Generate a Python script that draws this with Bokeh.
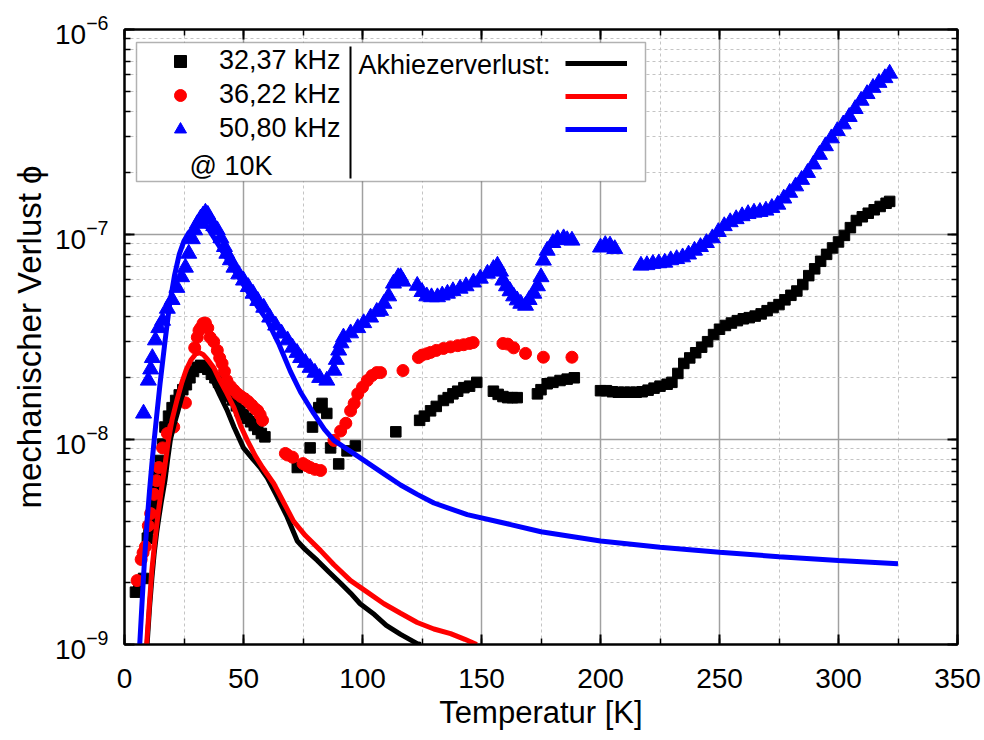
from bokeh.plotting import figure
from bokeh.models import (LinearAxis, LogAxis, SingleIntervalTicker, LogTicker,
                          Legend, LegendItem, Label, BoxAnnotation)
from bokeh.embed import file_html
from bokeh.resources import INLINE

FONT = "Liberation Sans"

# ---------------- data ----------------
# 32,37 kHz measured loss (black squares)
sq_T = [4.6, 6, 8, 9.6, 10.3, 11, 12, 13, 14, 15, 16, 17, 18.5, 20, 21.5, 23, 24.5, 26, 27.5, 29,
        30.5, 32, 33.5, 35, 36.5, 38, 39.5, 41, 42.5, 44, 45.5, 47, 48.5, 50, 51.5, 53, 54.5, 56, 57.5, 59,
        72.6, 78, 79, 81.6, 83, 85, 86.6, 90, 93.5, 97,
        114, 124, 126, 128.6, 131, 134, 136, 138, 140, 142.6, 145, 148,
        155, 157, 159, 161, 163, 165, 173.5, 175, 177.6, 180, 183, 186, 189,
        200, 202.5, 205, 207.5, 210, 212.5, 215, 217.5, 220, 222.5, 225, 228, 230, 232.5, 235, 237.5,
        240, 242.5, 245, 247.5, 250, 252.5, 255, 257.5, 260, 262.5, 265, 267.5, 270, 272.5, 275, 277.5,
        280, 282.5, 285, 287.5, 290, 292.5, 295, 297.5, 300, 302.5, 305, 307.5, 310, 312.5, 315, 317.5,
        320, 321.5]
sq_phi = [1.8e-9, 1.95e-9, 2.1e-9, 3.3e-9, 3.7e-9, 4.0e-9, 4.8e-9, 5.6e-9, 6.7e-9, 7.9e-9, 9.5e-9,
          1.15e-8, 1.3e-8, 1.43e-8, 1.55e-8, 1.65e-8, 1.75e-8, 1.85e-8, 2.0e-8, 2.15e-8,
          2.25e-8, 2.3e-8, 2.25e-8, 2.2e-8, 2.08e-8, 2.0e-8, 1.9e-8, 1.8e-8, 1.7e-8, 1.62e-8,
          1.56e-8, 1.46e-8, 1.38e-8, 1.32e-8, 1.27e-8, 1.22e-8, 1.17e-8, 1.12e-8, 1.07e-8, 1.03e-8,
          7.3e-9, 9.1e-9, 1.15e-8, 1.43e-8, 1.5e-8, 1.34e-8, 9.1e-9, 7.6e-9, 8.8e-9, 9.3e-9,
          1.09e-8, 1.24e-8, 1.3e-8, 1.38e-8, 1.45e-8, 1.55e-8, 1.6e-8, 1.67e-8, 1.72e-8, 1.79e-8, 1.82e-8, 1.9e-8,
          1.72e-8, 1.66e-8, 1.62e-8, 1.6e-8, 1.6e-8, 1.6e-8, 1.67e-8, 1.75e-8, 1.87e-8, 1.9e-8, 1.94e-8, 1.97e-8, 2.0e-8,
          1.73e-8, 1.73e-8, 1.71e-8, 1.7e-8, 1.7e-8, 1.7e-8, 1.7e-8, 1.71e-8, 1.74e-8, 1.78e-8, 1.82e-8, 1.86e-8,
          1.9e-8, 2.1e-8, 2.35e-8, 2.5e-8, 2.65e-8, 2.82e-8, 3.0e-8, 3.25e-8, 3.45e-8, 3.6e-8, 3.7e-8, 3.8e-8,
          3.88e-8, 3.93e-8, 4.0e-8, 4.1e-8, 4.25e-8, 4.4e-8, 4.55e-8, 4.8e-8, 5.05e-8, 5.3e-8, 5.7e-8, 6.3e-8,
          6.8e-8, 7.4e-8, 8.0e-8, 8.6e-8, 9.2e-8, 9.9e-8, 1.08e-7, 1.17e-7, 1.22e-7, 1.27e-7, 1.32e-7, 1.37e-7,
          1.42e-7, 1.45e-7]

# 36,22 kHz measured loss (red circles)
ci_T = [5.3, 7, 7.8, 8.8, 10, 11, 12.4, 13.5, 14.4, 16, 18, 20.7, 25.6, 29.5, 30.6, 31.3, 32, 33, 34,
        35, 36, 37.5, 39, 40, 41, 42, 43, 44.5, 46, 47.5, 49, 50.5, 52, 53.5, 55, 56, 57, 58,
        67.6, 68.5, 70.6, 75, 76.5, 78, 80, 82.4, 88, 90.8, 93, 95, 96.5, 98, 100, 102, 104, 106,
        107.6, 117, 123.5, 125, 127, 128.6, 131, 134, 137, 140, 142.5, 145, 146.5, 159, 161, 163.5,
        168.5, 176, 188]
ci_phi = [2.05e-9, 2.6e-9, 2.8e-9, 3.0e-9, 3.8e-9, 4.35e-9, 5.4e-9, 6.3e-9, 7.3e-9, 9.1e-9, 1.07e-8,
          1.15e-8, 1.51e-8, 2.8e-8, 3.15e-8, 3.4e-8, 3.5e-8, 3.68e-8, 3.7e-8, 3.5e-8, 3.15e-8, 3.0e-8,
          2.72e-8, 2.5e-8, 2.35e-8, 2.15e-8, 1.94e-8, 1.82e-8, 1.74e-8, 1.67e-8, 1.62e-8, 1.58e-8,
          1.53e-8, 1.47e-8, 1.41e-8, 1.38e-8, 1.32e-8, 1.24e-8,
          8.55e-9, 8.4e-9, 8.2e-9, 7.63e-9, 7.45e-9, 7.3e-9, 7.15e-9, 7.06e-9, 9.9e-9, 1.1e-8, 1.2e-8,
          1.38e-8, 1.5e-8, 1.67e-8, 1.8e-8, 1.94e-8, 2.05e-8, 2.12e-8, 2.12e-8, 2.17e-8, 2.51e-8,
          2.58e-8, 2.62e-8, 2.66e-8, 2.72e-8, 2.78e-8, 2.83e-8, 2.87e-8, 2.9e-8, 2.94e-8, 2.97e-8,
          2.94e-8, 2.92e-8, 2.8e-8, 2.63e-8, 2.52e-8, 2.52e-8]

# 50,80 kHz measured loss (blue triangles)
tr_T = [8, 10, 11, 11.7, 13, 14.4, 16, 18, 20, 22, 24, 25.6, 27, 28.5, 29.5, 30.6, 32, 33, 34, 35, 36,
        37.5, 39, 40.5, 42, 43, 44.5, 46, 48, 50, 52, 54, 56, 58.5, 61, 63.5, 66, 68.5, 70.6, 72.5, 74,
        76, 78, 80, 82, 85, 88, 89, 90, 91, 92, 95, 98, 100.5, 103.4, 106, 107.6, 109, 111, 113, 115,
        116, 117, 123, 125, 127, 129, 131.5, 133.5, 135.7, 138, 141, 143.5, 146.6, 149.5, 152.5, 155,
        156.7, 158, 159, 160.5, 162, 163.5, 165, 166.5, 168.5, 170, 172, 173.5, 175, 176, 177.6, 180,
        182, 184.5, 186, 188, 200, 202, 204, 206,
        217, 219.5, 222, 224.5, 227, 229.5, 232, 234.5, 237, 239.5, 242, 244.5, 247, 249.5, 252, 254.5,
        257, 259.5, 262, 264.5, 267, 269.5, 272, 274.5, 277, 279.5, 282, 284.5, 287, 289.5, 292, 294.5,
        297, 299.5, 302, 304.5, 307, 309.5, 312, 314.5, 317, 319.5, 321.5]
tr_phi = [1.34e-8, 1.94e-8, 2.2e-8, 2.5e-8, 3.05e-8, 3.5e-8, 3.8e-8, 4.35e-8, 4.8e-8, 5.5e-8, 6.2e-8,
          6.9e-8, 8.07e-8, 9.5e-8, 1.05e-7, 1.13e-7, 1.2e-7, 1.24e-7, 1.28e-7, 1.25e-7, 1.18e-7, 1.1e-7,
          1.05e-7, 9.6e-8, 8.7e-8, 8.07e-8, 7.5e-8, 6.9e-8, 6.4e-8, 5.97e-8, 5.55e-8, 5.15e-8, 4.75e-8,
          4.4e-8, 3.94e-8, 3.6e-8, 3.29e-8, 3.05e-8, 2.81e-8, 2.65e-8, 2.5e-8, 2.37e-8, 2.24e-8, 2.12e-8,
          2.0e-8, 1.94e-8, 2.17e-8, 2.45e-8, 2.72e-8, 2.95e-8, 3.15e-8, 3.3e-8, 3.5e-8, 3.7e-8, 3.94e-8,
          4.2e-8, 4.25e-8, 4.6e-8, 5.0e-8, 5.77e-8, 6.2e-8, 6.2e-8, 5.9e-8, 5.63e-8, 5.25e-8, 5.0e-8,
          4.95e-8, 4.95e-8, 5.05e-8, 5.15e-8, 5.3e-8, 5.45e-8, 5.6e-8, 5.84e-8, 6.1e-8, 6.45e-8, 6.8e-8,
          7.06e-8, 6.6e-8, 5.97e-8, 5.6e-8, 5.3e-8, 5.0e-8, 4.78e-8, 4.6e-8, 4.5e-8, 4.8e-8, 5.15e-8,
          5.6e-8, 6.2e-8, 7.47e-8, 8.35e-8, 9.1e-8, 9.5e-8, 9.6e-8, 9.4e-8, 9.35e-8, 8.65e-8, 8.9e-8,
          8.85e-8, 8.5e-8,
          7.06e-8, 7.1e-8, 7.2e-8, 7.25e-8, 7.3e-8, 7.5e-8, 7.6e-8, 7.75e-8, 8.0e-8, 8.35e-8, 8.7e-8,
          9.1e-8, 9.6e-8, 1.03e-7, 1.1e-7, 1.15e-7, 1.19e-7, 1.23e-7, 1.26e-7, 1.28e-7, 1.29e-7, 1.31e-7,
          1.35e-7, 1.4e-7, 1.5e-7, 1.6e-7, 1.72e-7, 1.85e-7, 2.0e-7, 2.2e-7, 2.45e-7, 2.7e-7, 2.95e-7,
          3.2e-7, 3.45e-7, 3.75e-7, 4.1e-7, 4.5e-7, 4.85e-7, 5.2e-7, 5.5e-7, 5.8e-7, 6.1e-7]

# Akhiezer loss curves
ak1_T = [9.5, 10.5, 11.5, 12.5, 13.5, 14.5, 15.5, 17, 18, 19.3, 21, 22.5, 24, 26, 28, 30, 32, 34, 36,
         38, 40, 43, 46, 50, 54, 57, 60, 64, 68.3, 72.6, 76, 81, 86, 90.8, 95, 99, 105, 110, 116, 123, 124.5]
ak1_phi = [1.0e-9, 1.5e-9, 2.1e-9, 2.8e-9, 3.5e-9, 4.2e-9, 5.0e-9, 6.3e-9, 7.8e-9, 1.0e-8, 1.2e-8,
           1.38e-8, 1.6e-8, 1.88e-8, 2.1e-8, 2.25e-8, 2.3e-8, 2.22e-8, 2.05e-8, 1.85e-8, 1.65e-8,
           1.4e-8, 1.15e-8, 9.1e-9, 8.0e-9, 7.3e-9, 6.5e-9, 5.3e-9, 4.2e-9, 3.2e-9, 2.9e-9, 2.57e-9,
           2.25e-9, 1.99e-9, 1.78e-9, 1.58e-9, 1.4e-9, 1.24e-9, 1.12e-9, 1.01e-9, 1.0e-9]
ak2_T = [9.3, 10.5, 11.5, 12.5, 13.5, 14.5, 15.5, 17, 18.5, 20, 22, 24, 26, 28, 30, 31.5, 33, 35, 37.5,
         40, 43, 46, 49, 51.6, 55, 58, 62.7, 67, 71, 76, 82.4, 88, 95, 102, 109, 116, 123, 130, 137, 143, 148]
ak2_phi = [1.0e-9, 1.6e-9, 2.3e-9, 3.0e-9, 3.8e-9, 4.7e-9, 5.7e-9, 7.5e-9, 1.0e-8, 1.25e-8, 1.55e-8,
           1.88e-8, 2.2e-8, 2.45e-8, 2.62e-8, 2.65e-8, 2.6e-8, 2.45e-8, 2.24e-8, 1.95e-8, 1.68e-8,
           1.43e-8, 1.15e-8, 9.9e-9, 8.3e-9, 7.3e-9, 6.1e-9, 4.9e-9, 4.0e-9, 3.4e-9, 2.87e-9, 2.45e-9,
           2.05e-9, 1.8e-9, 1.58e-9, 1.42e-9, 1.28e-9, 1.19e-9, 1.13e-9, 1.06e-9, 1.0e-9]
ak3_T = [6.4, 7.5, 8.5, 9.5, 10.5, 11.5, 12.5, 13.5, 15, 17, 19, 21, 23, 25, 27, 29, 31, 33, 35, 37, 40,
         44, 48.7, 54, 60, 65, 69.7, 74, 79.5, 84, 88, 94, 100, 109, 116, 123, 130, 144, 158, 175, 200,
         225, 250, 275, 300, 325]
ak3_phi = [1.0e-9, 1.7e-9, 2.7e-9, 4.0e-9, 5.6e-9, 7.6e-9, 1.0e-8, 1.3e-8, 1.9e-8, 3.0e-8, 4.6e-8,
           6.3e-8, 8.0e-8, 9.3e-8, 1.02e-7, 1.08e-7, 1.12e-7, 1.13e-7, 1.08e-7, 9.9e-8, 8.7e-8, 7.3e-8,
           6.0e-8, 4.8e-8, 3.8e-8, 2.9e-8, 2.15e-8, 1.7e-8, 1.34e-8, 1.12e-8, 9.9e-9, 8.9e-9, 8.0e-9,
           6.8e-9, 6.0e-9, 5.4e-9, 4.9e-9, 4.3e-9, 3.95e-9, 3.55e-9, 3.2e-9, 2.98e-9, 2.82e-9, 2.68e-9,
           2.57e-9, 2.48e-9]

series_labels = ["32,37 kHz", "36,22 kHz", "50,80 kHz"]
note_label = "@ 10K"
ak_label = "Akhiezerverlust:"

# ---------------- figure ----------------
p = figure(width=984, height=740, y_axis_type="log", x_range=(0, 350), y_range=(1e-9, 1e-6),
           output_backend="svg", toolbar_location=None,
           min_border_left=124, min_border_right=27, min_border_top=29, min_border_bottom=96)
p.background_fill_color = "white"
p.border_fill_color = "white"
p.outline_line_color = "black"
p.outline_line_width = 2

xticker = SingleIntervalTicker(interval=50, num_minor_ticks=2)
yticker = LogTicker(num_minor_ticks=10)

def style_axis(ax, labels=True):
    ax.axis_line_width = 2
    ax.axis_line_color = "black"
    ax.major_tick_in = 10
    ax.major_tick_out = 0
    ax.minor_tick_in = 6
    ax.minor_tick_out = 0
    ax.major_tick_line_width = 2
    ax.minor_tick_line_width = 1.5
    ax.major_tick_line_color = "black"
    ax.minor_tick_line_color = "black"
    if labels:
        ax.major_label_text_font = FONT
        ax.major_label_text_font_size = "28px"
        ax.major_label_text_color = "black"
        ax.axis_label_text_font = FONT
        ax.axis_label_text_font_style = "normal"
        ax.axis_label_text_color = "black"
    else:
        ax.major_label_text_font_size = "0px"
        ax.major_label_standoff = 0
        ax.major_label_text_alpha = 0

xa = p.xaxis[0]
xa.ticker = xticker
style_axis(xa)
xa.axis_label = "Temperatur [K]"
xa.axis_label_text_font_size = "31px"
xa.major_label_standoff = 24
xa.axis_label_standoff = 4

ya = p.yaxis[0]
ya.ticker = yticker
style_axis(ya)
ya.axis_label = "mechanischer Verlust ϕ"
ya.axis_label_text_font_size = "33px"
ya.major_label_standoff = 16
ya.axis_label_standoff = 4

top_ax = LinearAxis(ticker=xticker)
style_axis(top_ax, labels=False)
p.add_layout(top_ax, "above")
right_ax = LogAxis(ticker=yticker)
style_axis(right_ax, labels=False)
p.add_layout(right_ax, "right")

for g in (p.xgrid[0], p.ygrid[0]):
    g.grid_line_color = "#a0a0a0"
    g.grid_line_width = 1.5
    g.minor_grid_line_color = "#c4c4c4"
    g.minor_grid_line_width = 1
    g.minor_grid_line_dash = "3 3"

# ---------------- data glyphs ----------------
r_sq = p.scatter(sq_T, sq_phi, marker="square", size=10.5, color="black")
r_ci = p.scatter(ci_T, ci_phi, marker="circle", size=12, color="red")
r_tr = p.scatter(tr_T, tr_phi, marker="triangle", size=16, color="blue")
r_l1 = p.line(ak1_T, ak1_phi, line_color="black", line_width=5)
r_l2 = p.line(ak2_T, ak2_phi, line_color="red", line_width=5)
r_l3 = p.line(ak3_T, ak3_phi, line_color="blue", line_width=5)

# ---------------- legend block ----------------
box = BoxAnnotation(left=12, right=521, top=602, bottom=463,
                    left_units="screen", right_units="screen", top_units="screen", bottom_units="screen",
                    fill_color="white", fill_alpha=1, line_color="black", line_width=1.5)
p.add_layout(box)
sep = BoxAnnotation(left=225, right=227, top=598, bottom=466,
                    left_units="screen", right_units="screen", top_units="screen", bottom_units="screen",
                    fill_color="black", fill_alpha=1, line_color=None)
p.add_layout(sep)

leg1 = Legend(items=[LegendItem(label=series_labels[0], renderers=[r_sq]),
                     LegendItem(label=series_labels[1], renderers=[r_ci]),
                     LegendItem(label=series_labels[2], renderers=[r_tr])],
              location=(41, 500), glyph_width=30, glyph_height=30, label_standoff=24,
              spacing=3, padding=0, margin=0, border_line_color=None, background_fill_alpha=0,
              label_text_font=FONT, label_text_font_size="27px", label_text_color="black")
p.add_layout(leg1)

leg2 = Legend(items=[LegendItem(label=" ", renderers=[r_l1]),
                     LegendItem(label=" ", renderers=[r_l2]),
                     LegendItem(label=" ", renderers=[r_l3])],
              location=(441, 500), glyph_width=62, glyph_height=30, label_standoff=0,
              spacing=3, padding=0, margin=0, border_line_color=None, background_fill_alpha=0,
              label_text_font=FONT, label_text_font_size="27px")
p.add_layout(leg2)

p.add_layout(Label(x=234, y=580, x_units="screen", y_units="screen", text=ak_label,
                   text_font=FONT, text_font_size="27px", text_baseline="middle", text_color="black"))
p.add_layout(Label(x=65, y=479, x_units="screen", y_units="screen", text=note_label,
                   text_font=FONT, text_font_size="27px", text_baseline="middle", text_color="black"))

open("out.html", "w").write(file_html(p, INLINE))
